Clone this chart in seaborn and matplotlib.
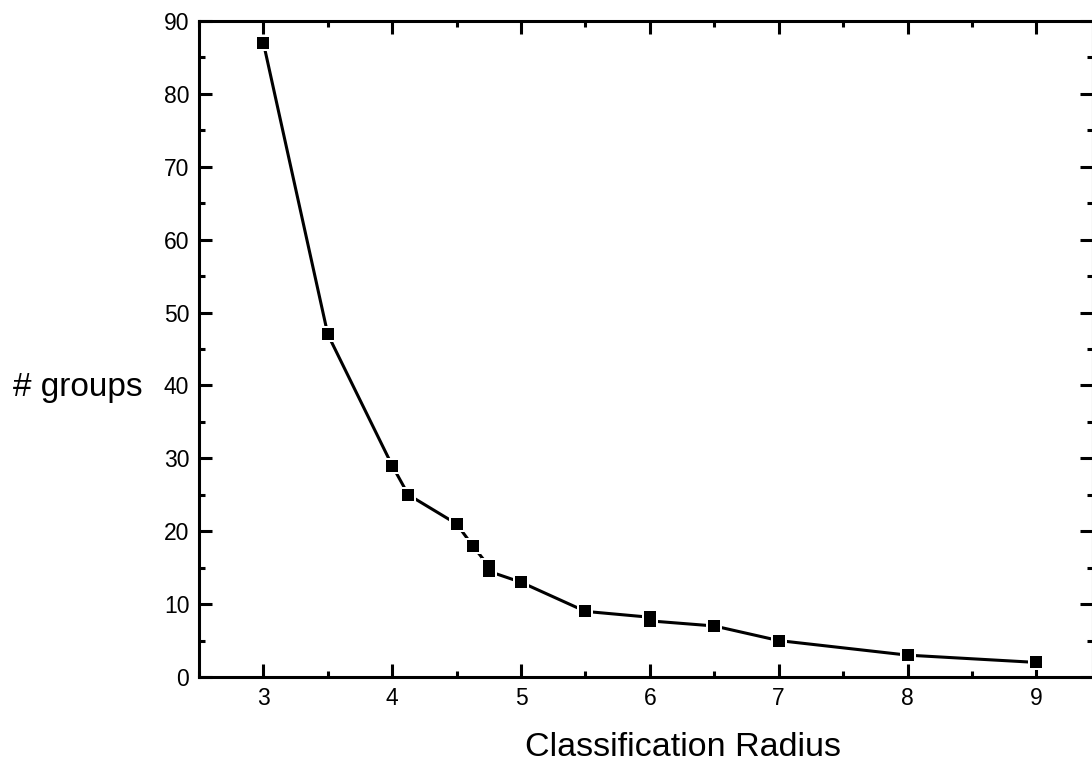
import numpy as np
import pandas as pd
import seaborn as sns
import matplotlib.pyplot as plt
from matplotlib.ticker import MultipleLocator

# values
radius = [3, 3.5, 4, 4.125, 4.5, 4.625, 4.75, 4.75, 5, 5.5, 6, 6, 6.5, 7, 8, 9]
groups = [87, 47, 29, 25, 21, 18, 15.2, 14.5, 13, 9, 8.2, 7.7, 7, 5, 3, 2]
x_ticks = [3, 4, 5, 6, 7, 8, 9]
y_ticks = [0, 10, 20, 30, 40, 50, 60, 70, 80, 90]

df = pd.DataFrame({'radius': radius, 'groups': groups})

sns.set_style('ticks')
plt.rcParams['font.family'] = ['Liberation Sans', 'DejaVu Sans']

fig = plt.figure(figsize=(10.92, 7.63), dpi=100)
ax = fig.add_axes([199 / 1092, 86 / 763, 894 / 1092, 656 / 763])

# line, then white halos so the line stops short of each marker, then the markers
sns.lineplot(data=df, x='radius', y='groups', sort=False, estimator=None,
             color='black', linewidth=2.2, ax=ax)
ax.scatter(df['radius'], df['groups'], marker='s', s=15 ** 2 / 1.9, color='white',
           linewidths=0, zorder=3)
sns.scatterplot(data=df, x='radius', y='groups', marker='s', s=9 ** 2, color='black',
                linewidth=0, zorder=4, ax=ax)

ax.set_xlim(2.5, 9.44)
ax.set_ylim(0, 90)
ax.set_xticks(x_ticks)
ax.set_yticks(y_ticks)
ax.xaxis.set_minor_locator(MultipleLocator(0.5))
ax.yaxis.set_minor_locator(MultipleLocator(5))
ax.tick_params(which='both', direction='in', top=True, right=True, width=2.2,
               labelsize=16.5, color='black', labelcolor='black')
ax.tick_params(which='major', length=9.5)
ax.tick_params(which='minor', length=4.5)
ax.tick_params(axis='x', pad=7)
ax.tick_params(axis='y', pad=7)
for s in ax.spines.values():
    s.set_linewidth(2.2)
    s.set_color('black')

ax.set_xlabel('Classification Radius', fontsize=24.5, va='center', color='black')
ax.xaxis.set_label_coords(0.541, -0.108)
ax.set_ylabel('# groups', fontsize=24, rotation=0, ha='center', va='center',
              color='black')
ax.yaxis.set_label_coords(-0.135, 0.442)

fig.savefig('out.png', dpi=100)
